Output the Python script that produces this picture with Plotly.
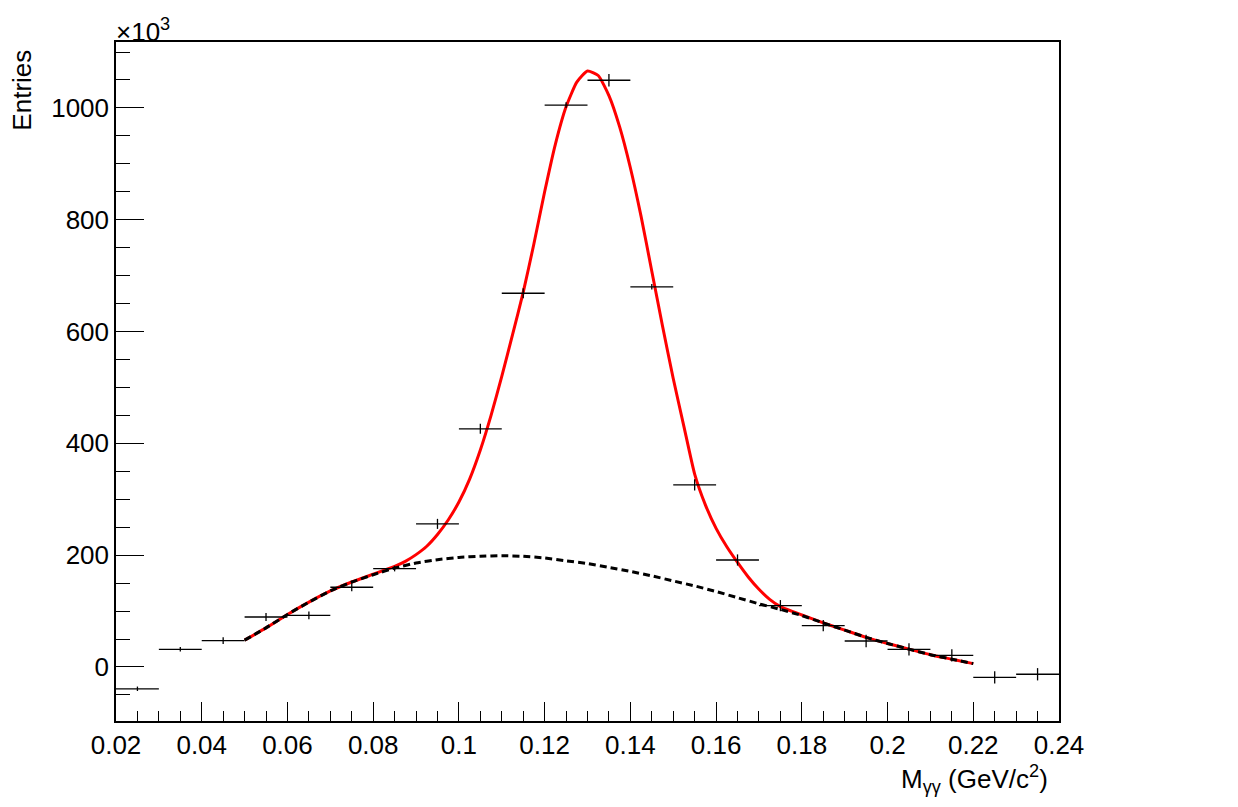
import plotly.graph_objects as go

# ---- data (values in units of 10^3 entries) ----
bin_centers = [0.025, 0.035, 0.045, 0.055, 0.065, 0.075, 0.085, 0.095, 0.105, 0.115, 0.125,
               0.135, 0.145, 0.155, 0.165, 0.175, 0.185, 0.195, 0.205, 0.215, 0.225, 0.235]
counts = [-39, 31.6, 47, 89.4, 92.4, 142.6, 176, 256, 426, 668.5, 1005,
          1049.5, 680, 325.6, 191.4, 109.7, 73.9, 46.5, 31.6, 20.9, -18.4, -13]
count_errors = [4, 4, 6, 7, 7, 7, 5, 9, 9, 9, 5, 11, 5, 10, 10, 10, 10, 11, 11, 11, 11, 11]
bin_half_width = 0.005

total_x = [0.05, 0.055, 0.06, 0.065, 0.07, 0.075, 0.08, 0.085, 0.0875, 0.09, 0.0925, 0.095, 0.0975,
           0.1, 0.1025, 0.105, 0.1075, 0.11, 0.1125, 0.115, 0.1175, 0.12, 0.1225, 0.125, 0.1275,
           0.13, 0.1325, 0.135, 0.1375, 0.14, 0.1425, 0.145, 0.1475, 0.15, 0.1525, 0.155, 0.1575,
           0.16, 0.1625, 0.165, 0.1675, 0.17, 0.1725, 0.175, 0.18, 0.185, 0.19, 0.195, 0.2, 0.205,
           0.21, 0.215, 0.22]
total_y = [48, 70, 94, 116, 136, 152, 166, 180, 189, 201, 216, 237, 263,
           295, 336, 388, 450, 520, 594, 670, 757, 850, 935, 1002, 1046,
           1066, 1058, 1022, 966, 893, 806, 708, 610, 516, 430, 345, 290,
           248, 215, 187, 161, 139, 121, 108, 93, 79, 66, 53, 42, 32,
           22, 14, 6]

bkg_x = [0.05, 0.055, 0.06, 0.065, 0.07, 0.075, 0.08, 0.085, 0.09, 0.095, 0.1, 0.105, 0.11,
         0.115, 0.12, 0.125, 0.13, 0.135, 0.14, 0.145, 0.15, 0.155, 0.16, 0.165, 0.17, 0.175,
         0.18, 0.185, 0.19, 0.195, 0.2, 0.205, 0.21, 0.215, 0.22]
bkg_y = [48, 70, 94, 116, 136, 152, 165, 177, 186, 192, 196, 198, 199,
         198, 195, 190, 185, 178, 171, 163, 154, 145, 135, 124, 113, 103,
         92, 79, 66, 53, 42, 32, 22, 14, 6]

x_tick_vals = [0.02, 0.04, 0.06, 0.08, 0.1, 0.12, 0.14, 0.16, 0.18, 0.2, 0.22, 0.24]
x_tick_text = ["0.02", "0.04", "0.06", "0.08", "0.1", "0.12", "0.14", "0.16", "0.18", "0.2", "0.22", "0.24"]
y_tick_vals = [0, 200, 400, 600, 800, 1000]

FONT = "Liberation Sans, Arial, Helvetica, sans-serif"
FS = 26

fig = go.Figure()

fig.add_trace(go.Scatter(
    x=total_x, y=total_y, mode="lines",
    line=dict(color="#ff0000", width=3, shape="spline", smoothing=0.5),
    hoverinfo="skip", showlegend=False))

fig.add_trace(go.Scatter(
    x=bkg_x, y=bkg_y, mode="lines",
    line=dict(color="black", width=3, dash="7px,4px", shape="spline", smoothing=0.5),
    hoverinfo="skip", showlegend=False))

fig.add_trace(go.Scatter(
    x=bin_centers, y=counts, mode="markers",
    marker=dict(size=0.1, color="black"),
    error_x=dict(type="constant", value=bin_half_width, width=0, thickness=1.3, color="black"),
    error_y=dict(type="data", array=count_errors, width=0, thickness=1.3, color="black"),
    showlegend=False))

# the page body adds an 8px offset; margins compensate so the frame lands at
# x 116..1059, y 42..721 on screen
fig.update_layout(
    width=1238, height=807,
    margin=dict(l=108, r=187, t=34, b=94, autoexpand=False),
    paper_bgcolor="white", plot_bgcolor="white",
    font=dict(family=FONT, size=FS, color="black"),
    xaxis=dict(
        range=[0.02, 0.24], showgrid=False, zeroline=False,
        showline=True, linewidth=1.5, linecolor="black", mirror=True,
        ticks="inside", ticklen=19, tickwidth=1, tickcolor="black",
        tickvals=x_tick_vals, ticktext=x_tick_text,
        tickfont=dict(family=FONT, size=FS),
        minor=dict(dtick=0.005, tick0=0.02, ticks="inside", ticklen=10, tickwidth=1, tickcolor="black"),
    ),
    yaxis=dict(
        range=[-96.6, 1117.9], showgrid=False, zeroline=False,
        showline=True, linewidth=1.5, linecolor="black", mirror=True,
        ticks="inside", ticklen=28, tickwidth=1, tickcolor="black",
        tickvals=y_tick_vals,
        tickfont=dict(family=FONT, size=FS),
        minor=dict(dtick=50, tick0=0, ticks="inside", ticklen=14, tickwidth=1, tickcolor="black"),
    ),
    annotations=[
        dict(text="Entries", textangle=-90, xref="paper", yref="paper",
             x=-0.1, y=0.992, xanchor="center", yanchor="top", showarrow=False,
             font=dict(family=FONT, size=FS)),
        dict(text="M<sub>γγ</sub> (GeV/c<sup>2</sup>)", xref="paper", yref="paper",
             x=0.99, y=-0.085, xanchor="right", yanchor="middle", showarrow=False,
             font=dict(family=FONT, size=FS)),
        dict(text="×10<sup>3</sup>", xref="paper", yref="paper",
             x=-0.002, y=0.99, xanchor="left", yanchor="bottom", showarrow=False,
             font=dict(family=FONT, size=FS)),
    ],
)

fig.write_html("out.html")
